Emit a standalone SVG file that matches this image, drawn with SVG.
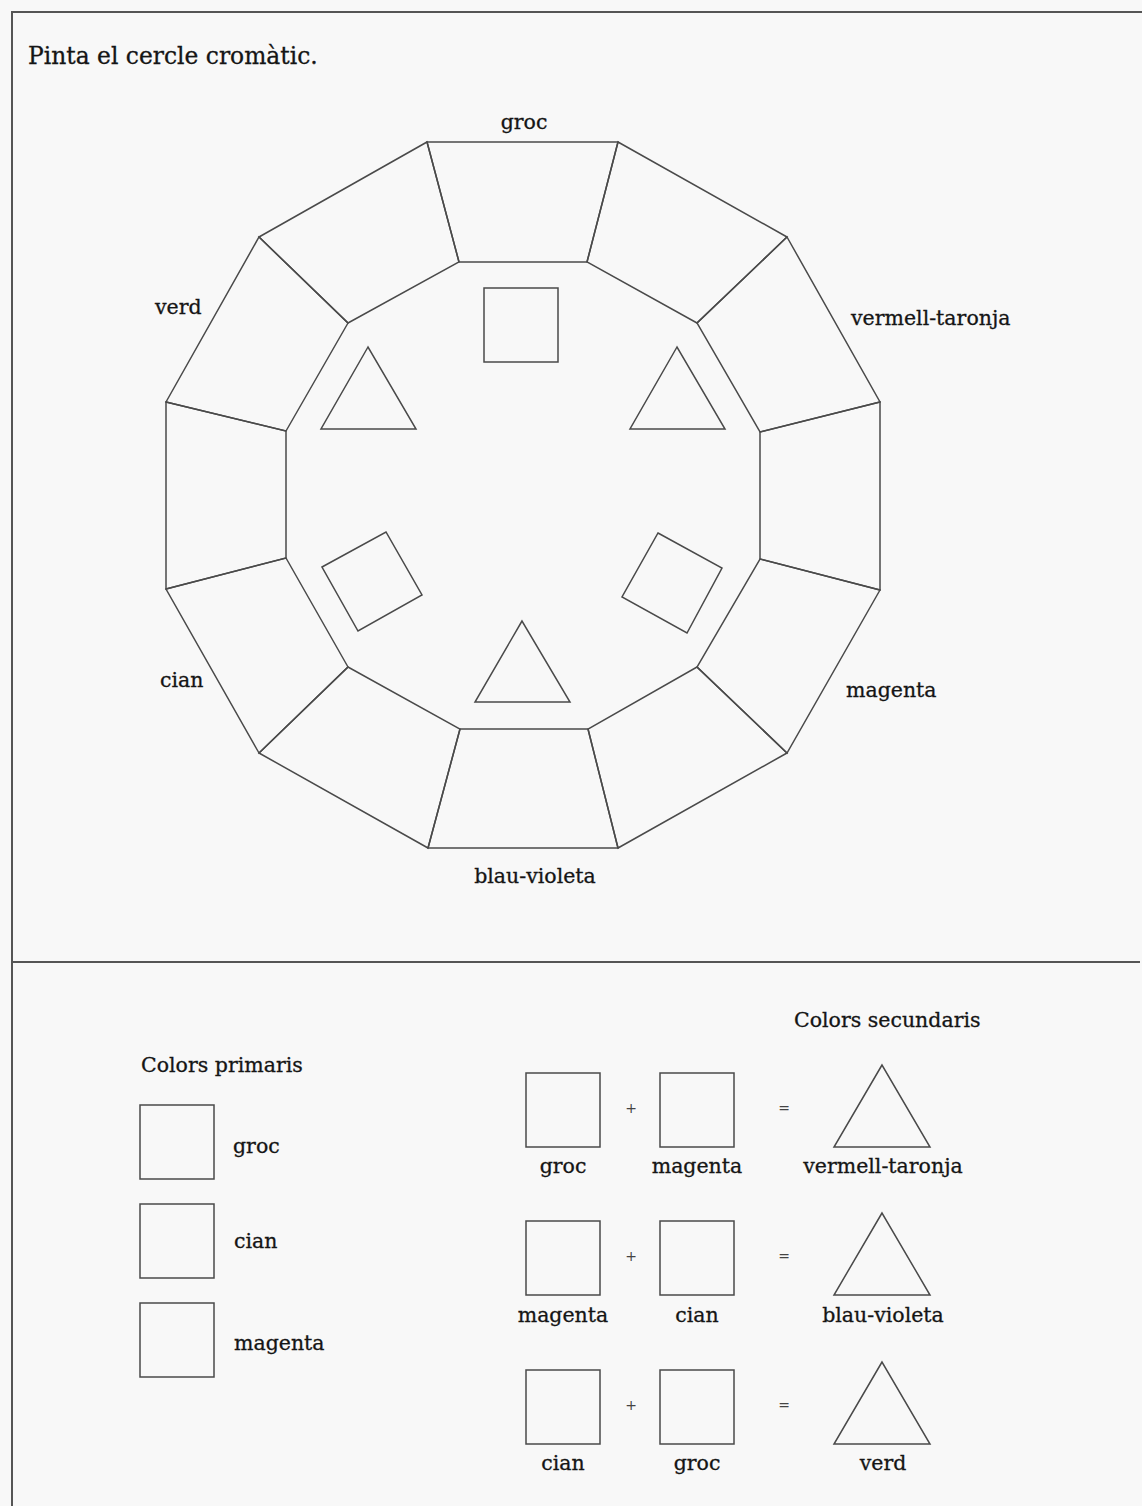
<svg xmlns="http://www.w3.org/2000/svg" width="1142" height="1506" viewBox="0 0 1142 1506">
<style>
.ln{fill:none;stroke:#4a4a4a;stroke-width:1.5;stroke-linejoin:miter}
.fr{fill:none;stroke:#555;stroke-width:2}
.t{font-family:"DejaVu Serif","Liberation Serif",serif;font-size:20.5px;fill:#151515;stroke:#151515;stroke-width:0.3}
.h{font-family:"DejaVu Serif","Liberation Serif",serif;font-size:23.4px;fill:#151515;stroke:#151515;stroke-width:0.3}
.op{font-family:"DejaVu Sans","Liberation Sans",sans-serif;font-size:14px;fill:#444}
.m{text-anchor:middle}
</style>
<defs>
<rect id="sq" x="0" y="0" width="74" height="74" class="ln"/>
<polygon id="tri" points="48,0 0,82 96,82" class="ln"/>
</defs>
<rect x="0" y="0" width="1142" height="1506" fill="#f8f8f8"/>
<g id="frame">
<path class="fr" d="M12,1506 V12 H1142"/>
<line class="fr" x1="12" y1="962" x2="1140" y2="962"/>
</g>
<text id="title" class="h" x="28" y="64">Pinta el cercle cromàtic.</text>
<g id="wheel">
<g id="seg0"><polygon class="ln" points="427,142 618,142 587,262 459,262"/></g>
<g id="seg1"><polygon class="ln" points="618,142 787,237 697,323 587,262"/></g>
<g id="seg2"><polygon class="ln" points="787,237 880,402 760,432 697,323"/></g>
<g id="seg3"><polygon class="ln" points="880,402 880,590 760,559 760,432"/></g>
<g id="seg4"><polygon class="ln" points="880,590 787,753 697,667 760,559"/></g>
<g id="seg5"><polygon class="ln" points="787,753 618,848 588,729 697,667"/></g>
<g id="seg6"><polygon class="ln" points="618,848 428,848 460,729 588,729"/></g>
<g id="seg7"><polygon class="ln" points="428,848 259,753 348,667 460,729"/></g>
<g id="seg8"><polygon class="ln" points="259,753 166,589 286,558 348,667"/></g>
<g id="seg9"><polygon class="ln" points="166,589 166,402 286,431 286,558"/></g>
<g id="seg10"><polygon class="ln" points="166,402 259,237 348,323 286,431"/></g>
<g id="seg11"><polygon class="ln" points="259,237 427,142 459,262 348,323"/></g>
</g>
<g id="inner-shapes">
<g id="sq-top"><rect class="ln" x="484" y="288" width="74" height="74"/></g>
<g id="tri-ul"><polygon class="ln" points="368,347 321,429 416,429"/></g>
<g id="tri-ur"><polygon class="ln" points="677,347 630,429 725,429"/></g>
<g id="sq-ll"><polygon class="ln" points="322,567 386,532 422,595 358,631"/></g>
<g id="sq-lr"><polygon class="ln" points="658,533 722,568 687,633 622,597"/></g>
<g id="tri-b"><polygon class="ln" points="522,621 475,702 570,702"/></g>
</g>
<g id="wheel-labels">
<text class="t m" x="524" y="129">groc</text>
<text class="t" x="155" y="314">verd</text>
<text class="t" x="851" y="325">vermell-taronja</text>
<text class="t" x="160" y="687">cian</text>
<text class="t" x="846" y="697">magenta</text>
<text class="t m" x="535" y="883">blau-violeta</text>
</g>
<g id="primaris">
<text class="t" x="141" y="1072">Colors primaris</text>
<g id="p-groc"><use href="#sq" x="140" y="1105"/><text class="t" x="233" y="1153">groc</text></g>
<g id="p-cian"><use href="#sq" x="140" y="1204"/><text class="t" x="234" y="1248">cian</text></g>
<g id="p-magenta"><use href="#sq" x="140" y="1303"/><text class="t" x="234" y="1350">magenta</text></g>
</g>
<g id="secundaris">
<text class="t" x="794" y="1027">Colors secundaris</text>
<g id="row1">
<use href="#sq" x="526" y="1073"/><text class="t m" x="563" y="1173">groc</text>
<text class="op m" x="631" y="1113">+</text>
<use href="#sq" x="660" y="1073"/><text class="t m" x="697" y="1173">magenta</text>
<text class="op m" x="784" y="1113">=</text>
<use href="#tri" x="834" y="1065"/><text class="t m" x="883" y="1173">vermell-taronja</text>
</g>
<g id="row2">
<use href="#sq" x="526" y="1221"/><text class="t m" x="563" y="1322">magenta</text>
<text class="op m" x="631" y="1261">+</text>
<use href="#sq" x="660" y="1221"/><text class="t m" x="697" y="1322">cian</text>
<text class="op m" x="784" y="1261">=</text>
<use href="#tri" x="834" y="1213"/><text class="t m" x="883" y="1322">blau-violeta</text>
</g>
<g id="row3">
<use href="#sq" x="526" y="1370"/><text class="t m" x="563" y="1470">cian</text>
<text class="op m" x="631" y="1410">+</text>
<use href="#sq" x="660" y="1370"/><text class="t m" x="697" y="1470">groc</text>
<text class="op m" x="784" y="1410">=</text>
<use href="#tri" x="834" y="1362"/><text class="t m" x="883" y="1470">verd</text>
</g>
</g>
</svg>
